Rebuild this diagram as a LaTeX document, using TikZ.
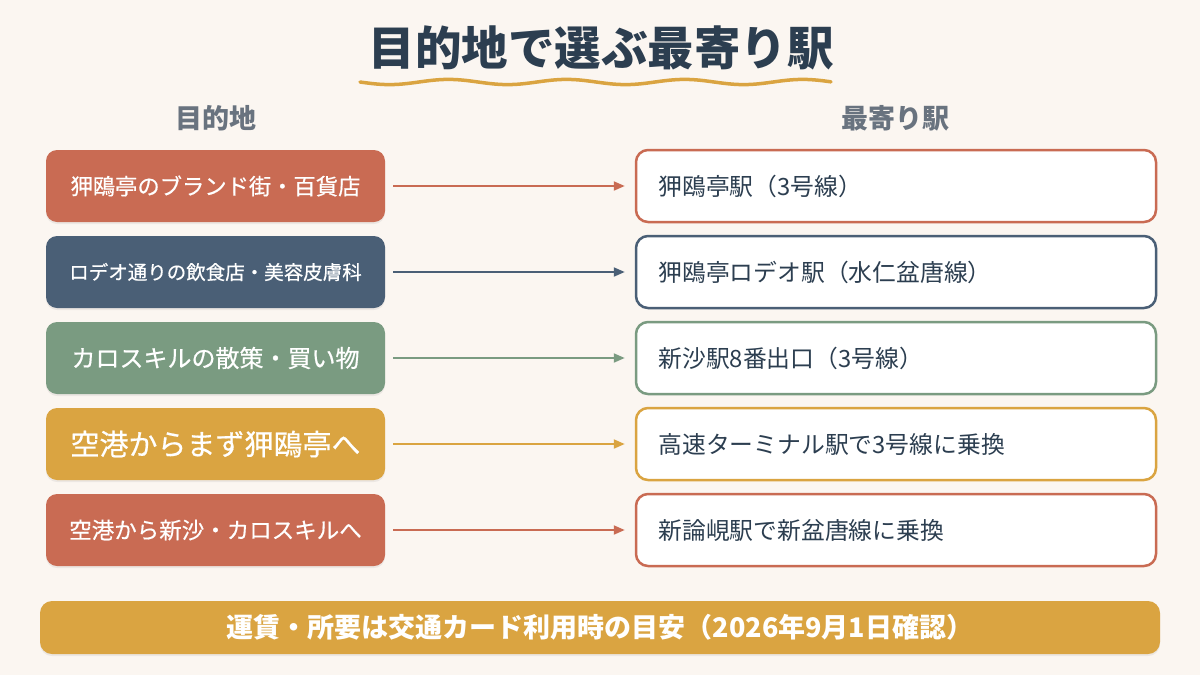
\documentclass[tikz,border=0pt]{standalone}
\usepackage{fontspec}
\setmainfont{Noto Sans CJK JP}
\newfontfamily\jpmid[FakeBold=0.5]{Noto Sans CJK JP}
\usetikzlibrary{arrows.meta,shadows}
\definecolor{bgc}{HTML}{FBF6F1}
\definecolor{ink}{HTML}{2C3E50}
\definecolor{hdr}{HTML}{69737F}
\definecolor{cred}{HTML}{C96B53}
\definecolor{cnavy}{HTML}{4A5F76}
\definecolor{cgreen}{HTML}{7A9B81}
\definecolor{cgold}{HTML}{DAA441}
\tikzset{
  destbox/.style={rounded corners=11pt, minimum width=339pt, minimum height=72pt, inner sep=0pt, text=white,
    drop shadow={opacity=0.12, shadow xshift=0pt, shadow yshift=-2pt}},
  stabox/.style={rounded corners=12pt, minimum width=520pt, minimum height=72pt, inner sep=0pt, fill=white, line width=2.5pt},
  conn/.style={line width=2pt, -{Triangle[length=11pt,width=9pt]}},
  hdrtext/.style={text=hdr, font=\bfseries\fontsize{27}{32}\selectfont},
  statext/.style={text=ink, anchor=west, font=\fontsize{23.8}{28}\selectfont}
}
\begin{document}
\begin{tikzpicture}[x=1pt,y=-1pt]
\fill[bgc] (0,0) rectangle (1200,675);
\useasboundingbox (0,0) rectangle (1200,675);
% title
\node[text=ink, font=\bfseries\fontsize{46.5}{52}\selectfont] (title) at (601,48) {目的地で選ぶ最寄り駅};
\draw[cgold, line width=3.5pt, line cap=round] plot[domain=360:831, samples=120] (\x, {82 + 2.6*sin((\x-360)*3.05)});
% headers
\node[hdrtext] (hl) at (216,118) {目的地};
\node[hdrtext] (hr) at (895,118) {最寄り駅};
% left boxes
\node[destbox, fill=cred]   (d1) at (215.5,186) {\jpmid\fontsize{22.3}{26}\selectfont 狎鴎亭のブランド街・百貨店};
\node[destbox, fill=cnavy]  (d2) at (215.5,272) {\jpmid\fontsize{19.5}{24}\selectfont ロデオ通りの飲食店・美容皮膚科};
\node[destbox, fill=cgreen] (d3) at (215.5,358) {\jpmid\fontsize{24}{28}\selectfont カロスキルの散策・買い物};
\node[destbox, fill=cgold]  (d4) at (215.5,444) {\jpmid\fontsize{29}{33}\selectfont 空港からまず狎鴎亭へ};
\node[destbox, fill=cred]   (d5) at (215.5,530) {\jpmid\fontsize{22.5}{27}\selectfont 空港から新沙・カロスキルへ};
% right boxes
\node[stabox, draw=cred]   (s1) at (896,186) {};
\node[stabox, draw=cnavy]  (s2) at (896,272) {};
\node[stabox, draw=cgreen] (s3) at (896,358) {};
\node[stabox, draw=cgold]  (s4) at (896,444) {};
\node[stabox, draw=cred]   (s5) at (896,530) {};
\node[statext] (t1) at (655,186) {狎鴎亭駅（3号線）};
\node[statext] (t2) at (655,272) {狎鴎亭ロデオ駅（水仁盆唐線）};
\node[statext] (t3) at (655,358) {新沙駅8番出口（3号線）};
\node[statext] (t4) at (655,444) {高速ターミナル駅で3号線に乗換};
\node[statext] (t5) at (655,530) {新論峴駅で新盆唐線に乗換};
% connectors
\draw[conn, cred]   ([xshift=8pt]d1.east) -- ([xshift=-10pt]s1.west);
\draw[conn, cnavy]  ([xshift=8pt]d2.east) -- ([xshift=-10pt]s2.west);
\draw[conn, cgreen] ([xshift=8pt]d3.east) -- ([xshift=-10pt]s3.west);
\draw[conn, cgold]  ([xshift=8pt]d4.east) -- ([xshift=-10pt]s4.west);
\draw[conn, cred]   ([xshift=8pt]d5.east) -- ([xshift=-10pt]s5.west);
% bottom bar
\node[rounded corners=12pt, fill=cgold, minimum width=1120pt, minimum height=53pt, inner sep=0pt, text=white,
  drop shadow={opacity=0.12, shadow xshift=0pt, shadow yshift=-2pt},
  font=\bfseries\fontsize{27}{32}\selectfont] (note) at (600,627.5) {運賃・所要は交通カード利用時の目安（2026年9月1日確認）};
\end{tikzpicture}
\end{document}
